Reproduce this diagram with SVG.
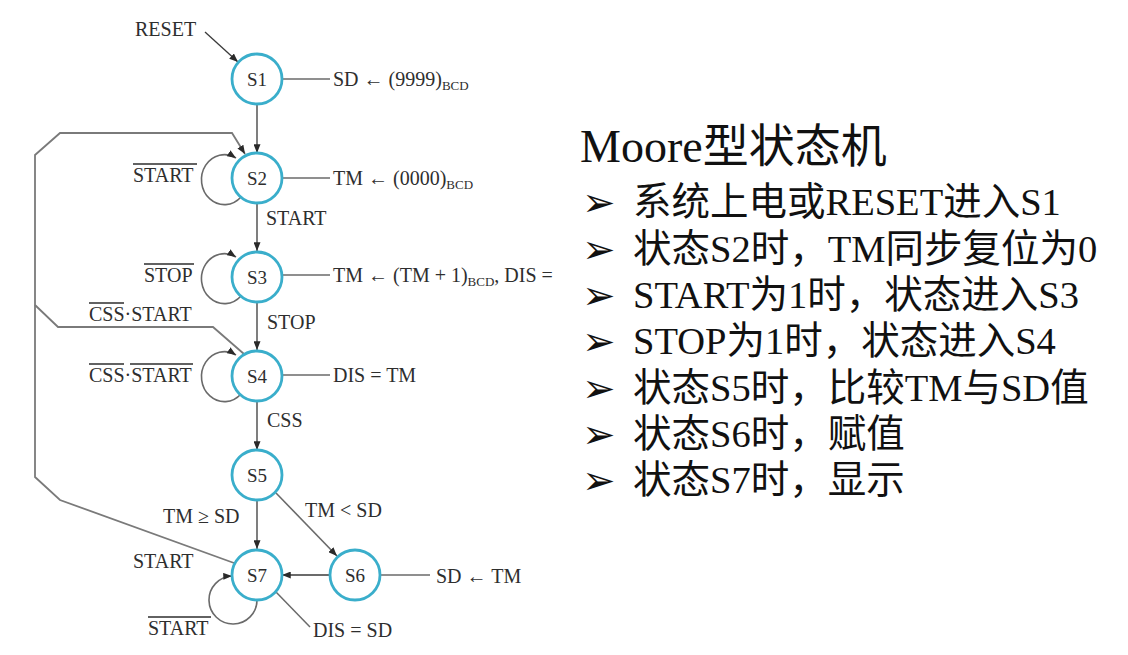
<svg xmlns="http://www.w3.org/2000/svg" width="1128" height="655" viewBox="0 0 1128 655">
  <defs>
    <marker id="arrow" viewBox="0 0 10 8" refX="10" refY="4" markerWidth="9" markerHeight="7" markerUnits="userSpaceOnUse" orient="auto">
      <path d="M0,0 L10,4 L0,8 z" fill="#2a2a2a"/>
    </marker>
    <style>
      .state circle { fill: #ffffff; stroke: #3aaecb; stroke-width: 2.8; }
      .state text { font-family: "Liberation Serif", serif; font-size: 19px; fill: #2e2e2e; text-anchor: middle; }
      .edge { fill: none; stroke: #3a3a3a; stroke-width: 1.3; }
      .loop { fill: none; stroke: #6a6a6a; stroke-width: 1.6; }
      .back { fill: none; stroke: #7a7a7a; stroke-width: 1.8; }
      .out { fill: none; stroke: #6a6a6a; stroke-width: 1.5; }
      .lbl { font-family: "Liberation Serif", serif; font-size: 20px; fill: #2e2e2e; }
      .sub { font-size: 13px; }
      .bar { stroke: #2e2e2e; stroke-width: 1.3; }
      .notes { font-family: "Liberation Serif", "Noto Sans CJK SC", serif; fill: #111; }
      .bullet { font-family: "DejaVu Sans", sans-serif; font-weight: bold; font-size: 40px; fill: #111; }
    </style>
  </defs>

  <rect width="1128" height="655" fill="#ffffff"/>

  <!-- transitions -->
  <g id="connectors">
    <!-- reset entry -->
    <line class="edge" x1="205" y1="32" x2="238" y2="62" marker-end="url(#arrow)"/>
    <!-- main chain -->
    <line class="edge" x1="257" y1="105" x2="257" y2="153" marker-end="url(#arrow)"/>
    <line class="edge" x1="257" y1="203" x2="257" y2="251" marker-end="url(#arrow)"/>
    <line class="edge" x1="257" y1="302" x2="257" y2="350" marker-end="url(#arrow)"/>
    <line class="edge" x1="257" y1="401" x2="257" y2="450" marker-end="url(#arrow)"/>
    <line class="edge" x1="257" y1="500" x2="257" y2="549" marker-end="url(#arrow)"/>
    <line class="loop" x1="276" y1="493" x2="337" y2="556" marker-end="url(#arrow)"/>
    <line class="edge" x1="330" y1="575" x2="282" y2="575" marker-end="url(#arrow)"/>
    <!-- return paths to S2 -->
    <polyline class="back" points="234,563 60,500 35,477 35,155 60,133 232,133 245,154" marker-end="url(#arrow)"/>
    <polyline class="back" points="244,354 213,327 58,327 35,305"/>
    <!-- self loops -->
    <path class="loop" d="M241,197 A23,25 0 1,1 236,158" marker-end="url(#arrow)"/>
    <path class="loop" d="M241,296 A23,25 0 1,1 236,257" marker-end="url(#arrow)"/>
    <path class="loop" d="M241,394 A23,25 0 1,1 236,355" marker-end="url(#arrow)"/>
    <path class="loop" d="M257,600 A24,24 0 1,1 232,576" marker-end="url(#arrow)"/>
    <!-- Moore outputs -->
    <line class="out" x1="282" y1="79" x2="330" y2="79"/>
    <line class="out" x1="282" y1="178" x2="330" y2="178"/>
    <line class="out" x1="282" y1="275" x2="330" y2="275"/>
    <line class="out" x1="282" y1="375" x2="330" y2="375"/>
    <line class="out" x1="380" y1="575" x2="430" y2="575"/>
    <line class="out" x1="276" y1="592" x2="310" y2="627"/>
  </g>

  <!-- states -->
  <g id="S1" class="state"><circle cx="257" cy="79" r="25"/><text x="257" y="86">S1</text></g>
  <g id="S2" class="state"><circle cx="257" cy="178" r="25"/><text x="257" y="185">S2</text></g>
  <g id="S3" class="state"><circle cx="257" cy="277" r="25"/><text x="257" y="284">S3</text></g>
  <g id="S4" class="state"><circle cx="257" cy="376" r="25"/><text x="257" y="383">S4</text></g>
  <g id="S5" class="state"><circle cx="257" cy="475" r="25"/><text x="257" y="482">S5</text></g>
  <g id="S6" class="state"><circle cx="355" cy="575" r="25"/><text x="355" y="582">S6</text></g>
  <g id="S7" class="state"><circle cx="257" cy="575" r="25"/><text x="257" y="582">S7</text></g>

  <!-- transition and output labels -->
  <g id="labels">
    <text class="lbl" x="135" y="36">RESET</text>
    <text class="lbl" x="333" y="86">SD ← (9999)<tspan class="sub" dy="4">BCD</tspan></text>
    <text class="lbl" x="333" y="185">TM ← (0000)<tspan class="sub" dy="4">BCD</tspan></text>
    <text class="lbl" x="333" y="282">TM ← (TM + 1)<tspan class="sub" dy="4">BCD</tspan><tspan dy="-4">, DIS =</tspan></text>
    <text class="lbl" x="333" y="382">DIS = TM</text>
    <text class="lbl" x="436" y="583">SD ← TM</text>
    <text class="lbl" x="313" y="637">DIS = SD</text>

    <text class="lbl" x="133" y="182">START</text>
    <line class="bar" x1="133" y1="164" x2="197" y2="164"/>
    <text class="lbl" x="266" y="225">START</text>

    <text class="lbl" x="144" y="282">STOP</text>
    <line class="bar" x1="144" y1="264" x2="194" y2="264"/>
    <text class="lbl" x="267" y="329">STOP</text>

    <text class="lbl" x="89" y="321">CSS·START</text>
    <line class="bar" x1="89" y1="303" x2="124" y2="303"/>

    <text class="lbl" x="89" y="382">CSS·START</text>
    <line class="bar" x1="89" y1="364" x2="124" y2="364"/>
    <line class="bar" x1="130" y1="364" x2="193" y2="364"/>
    <text class="lbl" x="267" y="427">CSS</text>

    <text class="lbl" x="163" y="523">TM ≥ SD</text>
    <text class="lbl" x="305" y="517">TM &lt; SD</text>

    <text class="lbl" x="133" y="568">START</text>
    <text class="lbl" x="148" y="635">START</text>
    <line class="bar" x1="148" y1="617" x2="211" y2="617"/>
  </g>

  <!-- summary notes -->
  <g id="notes" class="notes">
    <text x="580" y="162" font-size="46">Moore型状态机</text>
    <g font-size="38.5">
      <text x="633" y="215">系统上电或RESET进入S1</text>
      <text x="633" y="262">状态S2时，TM同步复位为0</text>
      <text x="633" y="308">START为1时，状态进入S3</text>
      <text x="633" y="354">STOP为1时，状态进入S4</text>
      <text x="633" y="401">状态S5时，比较TM与SD值</text>
      <text x="633" y="447">状态S6时，赋值</text>
      <text x="633" y="493">状态S7时，显示</text>
    </g>
    <g class="bullet">
      <text x="582" y="216">➢</text>
      <text x="582" y="263">➢</text>
      <text x="582" y="309">➢</text>
      <text x="582" y="355">➢</text>
      <text x="582" y="402">➢</text>
      <text x="582" y="448">➢</text>
      <text x="582" y="494">➢</text>
    </g>
  </g>
</svg>
